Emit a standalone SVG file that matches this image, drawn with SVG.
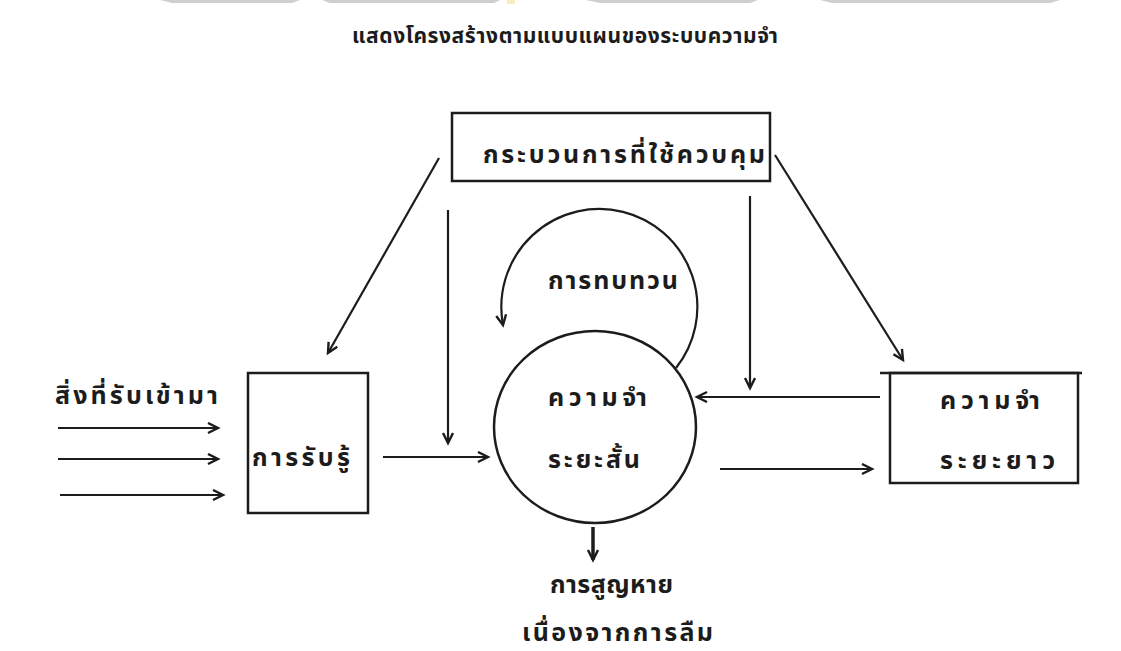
<svg xmlns="http://www.w3.org/2000/svg" width="1121" height="651" viewBox="0 0 1121 651">
  <style>
    .t { font-family: "Noto Sans Thai", "Loma", "Garuda", "Noto Sans", "DejaVu Sans", sans-serif; font-size: 25px; font-weight: bold; fill: #1c1c1c; }
    .ttl { font-size: 21px; }
    .box { fill: none; stroke: #1c1c1c; stroke-width: 2.5; }
    .ln { fill: none; stroke: #1c1c1c; stroke-width: 2.2; marker-end: url(#ah); }
    .hdr { fill: #cfcfcf; }
  </style>
  <defs>
    <marker id="ah" markerUnits="userSpaceOnUse" markerWidth="14" markerHeight="14" refX="11" refY="6" orient="auto">
      <path d="M1,1 L11,6 L1,11" fill="none" stroke="#1c1c1c" stroke-width="2.4"/>
    </marker>
  </defs>
  <rect width="1121" height="651" fill="#ffffff"/>
  <g id="header-marks">
    <polygon class="hdr" points="160,0 300,0 292,3 172,3"/>
    <polygon class="hdr" points="322,0 500,0 494,3 330,3"/>
    <polygon class="hdr" points="586,0 758,0 750,3 600,3"/>
    <polygon class="hdr" points="820,0 1060,0 1050,3 832,3"/>
    <rect x="507" y="0" width="8" height="4" fill="#f4eec0"/>
  </g>
  <g id="title">
    <text class="t ttl" x="352" y="43" textLength="426" lengthAdjust="spacing">แสดงโครงสร้างตามแบบแผนของระบบความจำ</text>
  </g>
  <g id="connectors">
    <line class="ln" x1="439" y1="158" x2="328" y2="353"/>
    <line class="ln" x1="448" y1="210" x2="448" y2="443"/>
    <line class="ln" x1="775" y1="155" x2="903" y2="360"/>
    <line class="ln" x1="750" y1="196" x2="750" y2="388"/>
    <line class="ln" x1="58" y1="428" x2="218" y2="428"/>
    <line class="ln" x1="58" y1="459" x2="218" y2="459"/>
    <line class="ln" x1="60" y1="495" x2="223" y2="495"/>
    <line class="ln" x1="383" y1="457" x2="488" y2="457"/>
    <line class="ln" x1="880" y1="397" x2="697" y2="397"/>
    <line class="ln" x1="720" y1="469" x2="872" y2="469"/>
    <path class="ln" d="M676,368 A98,98 0 1 0 503,325"/>
    <line class="ln" x1="593" y1="527" x2="593" y2="560" style="stroke-width:3.5"/>
  </g>
  <g id="control">
    <rect class="box" x="452" y="113" width="318" height="68"/>
    <text class="t" x="483" y="163" textLength="282" lengthAdjust="spacing">กระบวนการที่ใช้ควบคุม</text>
  </g>
  <g id="rehearsal-label">
    <text class="t" x="548" y="289" textLength="130" lengthAdjust="spacing">การทบทวน</text>
  </g>
  <g id="input">
    <text class="t" x="55" y="404" textLength="163" lengthAdjust="spacing">สิ่งที่รับเข้ามา</text>
  </g>
  <g id="perception">
    <rect class="box" x="248" y="373" width="120" height="140"/>
    <text class="t" x="252" y="466" textLength="98" lengthAdjust="spacing">การรับรู้</text>
  </g>
  <g id="short-term">
    <ellipse class="box" cx="595" cy="427" rx="101" ry="96"/>
    <text class="t" x="548" y="406" textLength="99" lengthAdjust="spacing">ความจำ</text>
    <text class="t" x="548" y="468" textLength="92" lengthAdjust="spacing">ระยะสั้น</text>
  </g>
  <g id="long-term">
    <rect class="box" x="890" y="373" width="188" height="110"/>
    <line class="box" x1="880" y1="373" x2="1082" y2="373"/>
    <text class="t" x="940" y="409" textLength="100" lengthAdjust="spacing">ความจำ</text>
    <text class="t" x="940" y="469" textLength="115" lengthAdjust="spacing">ระยะยาว</text>
  </g>
  <g id="forgetting">
    <text class="t" x="550" y="593" textLength="123" lengthAdjust="spacing">การสูญหาย</text>
    <text class="t" x="522" y="641" textLength="191" lengthAdjust="spacing">เนื่องจากการลืม</text>
  </g>
</svg>
